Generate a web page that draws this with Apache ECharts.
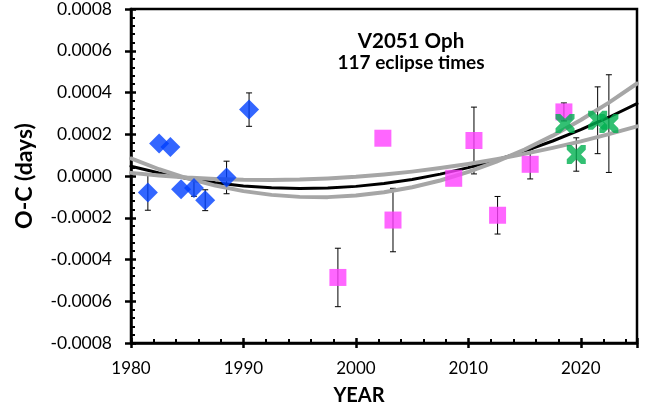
<!DOCTYPE html>
<html>
<head>
<meta charset="utf-8">
<script src="https://cdn.jsdelivr.net/npm/echarts@6/dist/echarts.min.js"></script>
<style>html,body{margin:0;padding:0;background:#fff}#c{width:651px;height:405px}</style>
</head>
<body>
<div id="c"></div>
<script>
// Blue diamonds (early timings)
const blueYears = [1981.5, 1982.5, 1983.5, 1984.45, 1985.6, 1986.6, 1988.5, 1990.5];
const blueOC    = [-0.000079, 0.000156, 0.000139, -0.000063, -0.000057, -0.000116, -0.000007, 0.000318];
const blueErr   = [0.000085, null, null, null, 0.00004, 0.00005, 0.000078, 0.00008];
// Magenta squares
const pinkYears = [1998.4, 2002.4, 2003.3, 2008.7, 2010.5, 2012.6, 2015.5, 2018.5];
const pinkOC    = [-0.000486, 0.000181, -0.000211, -0.000011, 0.00017, -0.000188, 0.000056, 0.000307];
const pinkErr   = [0.00014, null, 0.000152, null, 0.00016, 0.00009, 0.00007, 0.000043];
// Green crosses
const greenYears = [2018.6, 2019.6, 2021.5, 2022.5];
const greenOC    = [0.000251, 0.000103, 0.000267, 0.000251];
const greenErr   = [null, 0.00008, 0.00016, 0.000234];
// Fit curves
const fitYears = [1980, 1982.5, 1985, 1987.5, 1990, 1992.5, 1995, 1997.5, 2000, 2002.5, 2005, 2007.5, 2010, 2012.5, 2015, 2017.5, 2020, 2022.5, 2025];
const fitMid   = [0.0000469, 0.0000147, -0.0000118, -0.0000324, -0.0000474, -0.0000566, -0.00006, -0.0000577, -0.0000497, -0.0000359, -0.0000164, 0.000009, 0.00004, 0.0000768, 0.000119, 0.0001677, 0.000222, 0.0002815, 0.000347];
const fitSteep = [0.0000841, 0.0000323, -0.000011, -0.0000459, -0.0000724, -0.0000904, -0.0001, -0.0001012, -0.0000939, -0.0000782, -0.000054, -0.0000214, 0.0000196, 0.0000691, 0.000127, 0.0001933, 0.000268, 0.0003513, 0.000443];
const fitFlat  = [0.000015, 0.00000235, -0.0000074, -0.00001415, -0.000018, -0.00001885, -0.0000168, -0.00001175, -0.0000038, 0.00000715, 0.000021, 0.00003785, 0.0000576, 0.00008035, 0.000106, 0.0001347, 0.000166, 0.0002008, 0.000238];
const xTicks = [1980, 1990, 2000, 2010, 2020];

const FONT = 'Lato';
const zip = (a, b) => a.map((v, i) => [v, b[i]]);
const errData = (xs, ys, es) => xs.map((x, i) => [x, ys[i], es[i]]).filter(d => d[2] != null);

const errSeries = (xs, ys, es) => ({
  type: 'custom',
  data: errData(xs, ys, es),
  z: 1,
  silent: true,
  renderItem: function (params, api) {
    const x = api.value(0), y = api.value(1), e = api.value(2);
    const top = api.coord([x, y + e]);
    const bot = api.coord([x, y - e]);
    const w = 3;
    const st = { stroke: '#000', lineWidth: 1 };
    return { type: 'group', children: [
      { type: 'line', shape: { x1: top[0], y1: top[1], x2: bot[0], y2: bot[1] }, style: st },
      { type: 'line', shape: { x1: top[0] - w, y1: top[1], x2: top[0] + w, y2: top[1] }, style: st },
      { type: 'line', shape: { x1: bot[0] - w, y1: bot[1], x2: bot[0] + w, y2: bot[1] }, style: st }
    ]};
  }
});

const lineSeries = (ys, color, width, z) => ({
  type: 'line', data: zip(fitYears, ys), smooth: false, showSymbol: false, symbol: 'none',
  lineStyle: { color: color, width: width, cap: 'round', join: 'round' }, z: z, silent: true
});

const crossPath = 'path://M0,0 L2.5,0 L5,2.5 L7.5,0 L10,0 L10,2.5 L7.5,5 L10,7.5 L10,10 L7.5,10 L5,7.5 L2.5,10 L0,10 L0,7.5 L2.5,5 L0,2.5 Z';

const chart = echarts.init(document.getElementById('c'), null, { renderer: 'canvas' });
const xBase = { type: 'value', min: 1980, max: 2025, interval: 10 };
const yBase = { type: 'value', min: -0.0008, max: 0.0008, interval: 0.0002 };
chart.setOption({
  animation: false,
  grid: { left: 131, right: 14, top: 9, bottom: 62, outerBoundsMode: 'none', containLabel: false,
    show: true, borderColor: '#000', borderWidth: 2.5, backgroundColor: 'transparent' },
  title: {
    text: '{a|V2051 Oph}\n{b|117 eclipse times}', left: 406, top: 26, textAlign: 'center',
    textStyle: { fontFamily: FONT, fontWeight: 'bold', fontSize: 19, lineHeight: 21, color: '#000',
      rich: {
        a: { fontFamily: FONT, fontWeight: 'bold', fontSize: 20.5, lineHeight: 21, color: '#000' },
        b: { fontFamily: FONT, fontWeight: 'bold', fontSize: 19, lineHeight: 21, color: '#000' }
      } }
  },
  xAxis: [
    Object.assign({}, xBase, {
      position: 'bottom',
      name: 'YEAR', nameLocation: 'middle', nameGap: 43,
      nameTextStyle: { fontFamily: FONT, fontWeight: 'bold', fontSize: 20, color: '#000', padding: [0, 50, 0, 0] },
      axisLine: { show: true, onZero: false, lineStyle: { color: '#000', width: 2.5 } },
      axisTick: { show: true, inside: true, length: 5, lineStyle: { color: '#000', width: 2.5 } },
      minorTick: { show: true, splitNumber: 5, length: 4, lineStyle: { color: '#000', width: 2 } },
      splitLine: { show: false },
      axisLabel: { fontFamily: FONT, fontSize: 17, color: '#000', margin: 17,
        formatter: v => xTicks.indexOf(v) >= 0 ? String(v) : '' }
    }),
    Object.assign({}, xBase, {
      position: 'bottom', offset: 0,
      axisLine: { show: false, onZero: false },
      axisTick: { show: true, inside: false, length: 5, lineStyle: { color: '#000', width: 2.5 } },
      axisLabel: { show: false }, splitLine: { show: false }
    })
  ],
  yAxis: [
    Object.assign({}, yBase, {
      position: 'left',
      name: 'O-C (days)', nameLocation: 'middle', nameGap: 95, nameRotate: 90,
      nameTextStyle: { fontFamily: FONT, fontWeight: 'bold', fontSize: 23, color: '#000' },
      axisLine: { show: true, onZero: false, lineStyle: { color: '#000', width: 2.5 } },
      axisTick: { show: true, inside: true, length: 5, lineStyle: { color: '#000', width: 2.5 } },
      minorTick: { show: true, splitNumber: 5, length: 4, lineStyle: { color: '#000', width: 2 } },
      splitLine: { show: false },
      axisLabel: { fontFamily: FONT, fontSize: 17.5, color: '#000', margin: 19,
        formatter: v => v.toFixed(4) }
    }),
    Object.assign({}, yBase, {
      position: 'left', offset: 0,
      axisLine: { show: false, onZero: false },
      axisTick: { show: true, inside: false, length: 6, lineStyle: { color: '#000', width: 2.5 } },
      axisLabel: { show: false }, splitLine: { show: false }
    })
  ],
  series: [
    errSeries(blueYears, blueOC, blueErr),
    errSeries(pinkYears, pinkOC, pinkErr),
    errSeries(greenYears, greenOC, greenErr),
    lineSeries(fitMid, '#000000', 3, 2),
    lineSeries(fitSteep, '#a6a6a6', 4, 3),
    lineSeries(fitFlat, '#a6a6a6', 4, 3),
    { type: 'scatter', data: zip(blueYears, blueOC), symbol: 'diamond', symbolSize: [20, 20], itemStyle: { color: '#0040ff' }, z: 5 },
    { type: 'scatter', data: zip(pinkYears, pinkOC), symbol: 'rect', symbolSize: 17, itemStyle: { color: '#ff40ff' }, z: 5 },
    { type: 'scatter', data: zip(greenYears, greenOC), symbol: crossPath, symbolSize: 19, itemStyle: { color: '#00b050' }, z: 6 }
  ]
});
</script>
</body>
</html>
